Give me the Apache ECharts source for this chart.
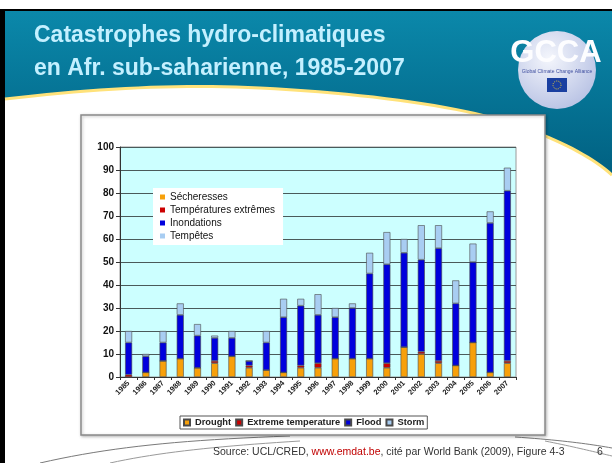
<!DOCTYPE html>
<html>
<head>
<meta charset="utf-8">
<script src="https://cdn.jsdelivr.net/npm/echarts@6/dist/echarts.min.js"></script>
<style>
html, body { margin: 0; padding: 0; background: #fff; }
#chart { width: 612px; height: 463px; }
</style>
</head>
<body>
<div id="chart"></div>
<script>
// données (nombre de catastrophes par an)
var years = ['1985', '1986', '1987', '1988', '1989', '1990', '1991', '1992', '1993', '1994', '1995', '1996',
  '1997', '1998', '1999', '2000', '2001', '2002', '2003', '2004', '2005', '2006', '2007'];
var drought =     [0, 2, 7, 8, 4, 6, 9, 4, 3, 2, 4, 4, 8, 8, 8, 4, 13, 10, 6, 5, 15, 2, 6];
var extremeTemp = [1, 0, 0, 0, 0, 1, 0, 1, 0, 0, 1, 2, 0, 0, 0, 2, 0, 1, 1, 0, 0, 0, 1];
var flood =       [14, 7, 8, 19, 14, 10, 8, 2, 12, 24, 26, 21, 18, 22, 37, 43, 41, 40, 49, 27, 35, 65, 74];
var storm =       [5, 1, 5, 5, 5, 1, 3, 0, 5, 8, 3, 9, 4, 2, 9, 14, 6, 15, 10, 10, 8, 5, 10];
var yMin = 0, yMax = 100, yStep = 10;

var frNames = {
  'Drought': 'Sécheresses',
  'Extreme temperature': 'Températures extrêmes',
  'Flood': 'Inondations',
  'Storm': 'Tempêtes'
};

// petite aide pour les courbes décoratives du transparent
function bez(segs) {
  var pts = [];
  segs.forEach(function (s) {
    for (var i = 0; i <= 20; i++) {
      var t = i / 20, u = 1 - t;
      pts.push([
        u*u*u*s[0][0] + 3*u*u*t*s[1][0] + 3*u*t*t*s[2][0] + t*t*t*s[3][0],
        u*u*u*s[0][1] + 3*u*u*t*s[1][1] + 3*u*t*t*s[2][1] + t*t*t*s[3][1]
      ]);
    }
  });
  return pts;
}
var bandEdge = bez([
  [[5, 99], [100, 88], [180, 84], [260, 88]],
  [[260, 88], [360, 93], [450, 105], [500, 120]],
  [[500, 120], [550, 135], [590, 155], [612, 175]]
]);

var myChart = echarts.init(document.getElementById('chart'));

function bar(name, data, color) {
  return {
    name: name,
    type: 'bar',
    stack: 'total',
    data: data,
    barWidth: 7,
    itemStyle: { color: color, borderColor: '#4a4a4a', borderWidth: 0.6 }
  };
}

function curve(pts, color) {
  return { type: 'polyline', z: -16, shape: { points: bez([pts]) }, style: { fill: null, stroke: color, lineWidth: 1 } };
}

myChart.setOption({
  animation: false,
  textStyle: { fontFamily: 'Liberation Sans, Arial, sans-serif' },
  grid: {
    left: 120, right: 96, top: 147, bottom: 86,
    show: true, backgroundColor: '#ccffff', borderColor: '#9a9a9a', borderWidth: 1
  },
  legend: [
    {
      left: 153, top: 188, orient: 'vertical',
      backgroundColor: '#fff', padding: [4, 8, 4, 7],
      itemWidth: 5, itemHeight: 5, itemGap: 3,
      icon: 'rect',
      itemStyle: { borderWidth: 0 },
      formatter: function (n) { return frNames[n]; },
      textStyle: { fontSize: 10, color: '#111' },
      data: ['Drought', 'Extreme temperature', 'Flood', 'Storm']
    },
    {
      left: 180, top: 416, orient: 'horizontal',
      backgroundColor: '#fff', borderColor: '#555', borderWidth: 1,
      padding: [2, 3, 2, 3],
      itemWidth: 6, itemHeight: 6, itemGap: 4,
      icon: 'rect',
      textStyle: { fontSize: 9.3, fontWeight: 'bold', color: '#222' },
      data: ['Drought', 'Extreme temperature', 'Flood', 'Storm']
    }
  ],
  xAxis: {
    type: 'category',
    data: years,
    axisLine: { lineStyle: { color: '#333' } },
    axisTick: { show: true, length: 3, lineStyle: { color: '#333' } },
    axisLabel: { rotate: 45, fontSize: 7.5, fontWeight: 'bold', color: '#222', margin: 5, interval: 0 }
  },
  yAxis: {
    type: 'value',
    min: yMin, max: yMax, interval: yStep,
    axisLine: { show: true, lineStyle: { color: '#333' } },
    axisTick: { show: true, length: 4, lineStyle: { color: '#333' } },
    axisLabel: { fontSize: 10, fontWeight: 'bold', color: '#111', margin: 6 },
    splitLine: { lineStyle: { color: '#4a5a5a', width: 1 } }
  },
  graphic: [
    // fond du transparent
    { type: 'rect', z: -20, shape: { x: 0, y: 9, width: 612, height: 2 }, style: { fill: '#000' } },
    { type: 'rect', z: -20, shape: { x: 0, y: 9, width: 5, height: 454 }, style: { fill: '#000' } },
    {
      type: 'rect', z: -19, shape: { x: 5, y: 11, width: 607, height: 170 },
      style: {
        fill: new echarts.graphic.LinearGradient(0, 0, 0, 1, [
          { offset: 0, color: '#0b88aa' }, { offset: 1, color: '#005f80' }
        ])
      }
    },
    {
      type: 'polygon', z: -18,
      shape: { points: bandEdge.concat([[612, 463], [5, 463]]) },
      style: { fill: '#fff' }
    },
    {
      type: 'polyline', z: -17,
      shape: { points: bandEdge },
      style: { fill: null, stroke: '#ffe27a', lineWidth: 3 }
    },
    // titre
    {
      type: 'text', z: 10, x: 34, y: 36,
      style: { text: 'Catastrophes hydro-climatiques', fill: '#c4f0ff', font: 'bold 23px "Liberation Sans", Arial, sans-serif', textVerticalAlign: 'middle' }
    },
    {
      type: 'text', z: 10, x: 34, y: 69,
      style: { text: 'en Afr. sub-saharienne, 1985-2007', fill: '#c4f0ff', font: 'bold 23px "Liberation Sans", Arial, sans-serif', textVerticalAlign: 'middle' }
    },
    // logo GCCA
    {
      type: 'circle', z: 10, shape: { cx: 557, cy: 70, r: 39 },
      style: {
        fill: new echarts.graphic.RadialGradient(0.4, 0.35, 0.7, [
          { offset: 0, color: '#f4f6fc' }, { offset: 1, color: '#b8c2e4' }
        ])
      }
    },
    {
      type: 'text', z: 11, x: 556, y: 53,
      style: {
        text: 'GCCA', fill: '#fdfdff', font: 'bold 31px "Liberation Sans", Arial, sans-serif',
        textAlign: 'center', textVerticalAlign: 'middle',
        shadowColor: '#555a70', shadowOffsetX: 2, shadowOffsetY: 2, shadowBlur: 1
      }
    },
    {
      type: 'text', z: 11, x: 557, y: 72,
      style: { text: 'Global Climate Change Alliance', fill: '#4050a0', font: '5px "Liberation Sans", Arial, sans-serif', textAlign: 'center', textVerticalAlign: 'middle' }
    },
    { type: 'rect', z: 11, shape: { x: 547, y: 78, width: 20, height: 14 }, style: { fill: '#1a3fa0' } },
    { type: 'circle', z: 12, shape: { cx: 557, cy: 85, r: 4 }, style: { fill: null, stroke: '#f2d230', lineWidth: 1, lineDash: [1, 1.2] } },
    // lignes courbes du bas
    curve([[40, 463], [110, 447], [180, 440], [290, 436]], '#7a7a7a'),
    curve([[110, 463], [160, 452], [220, 446], [300, 441]], '#9a9a9a'),
    curve([[515, 437], [560, 440], [590, 444], [612, 448]], '#7a7a7a'),
    curve([[545, 441], [575, 447], [595, 452], [612, 456]], '#9a9a9a'),
    // cadre du graphique
    {
      type: 'rect', z: -10, shape: { x: 81, y: 115, width: 464, height: 320 },
      style: { fill: '#fff', stroke: '#8a8a8a', lineWidth: 1.5, shadowColor: 'rgba(0,0,0,0.25)', shadowBlur: 3, shadowOffsetX: 1, shadowOffsetY: 1 }
    },
    // source
    {
      type: 'text', z: 10, x: 213, y: 452,
      style: {
        text: '{a|Source: UCL/CRED, }{b|www.emdat.be}{a|, cité par World Bank (2009), Figure 4-3}',
        textVerticalAlign: 'middle',
        rich: {
          a: { fontSize: 10.5, fill: '#333', fontFamily: 'Liberation Sans, Arial, sans-serif' },
          b: { fontSize: 10.5, fill: '#c00000', fontFamily: 'Liberation Sans, Arial, sans-serif' }
        }
      }
    },
    {
      type: 'text', z: 10, x: 597, y: 452,
      style: { text: '6', fill: '#333', font: '10.5px "Liberation Sans", Arial, sans-serif', textVerticalAlign: 'middle' }
    }
  ],
  series: [
    bar('Drought', drought, '#f7a00a'),
    bar('Extreme temperature', extremeTemp, '#cc0000'),
    bar('Flood', flood, '#0000dd'),
    bar('Storm', storm, '#a8cdf2')
  ]
});
</script>
</body>
</html>
